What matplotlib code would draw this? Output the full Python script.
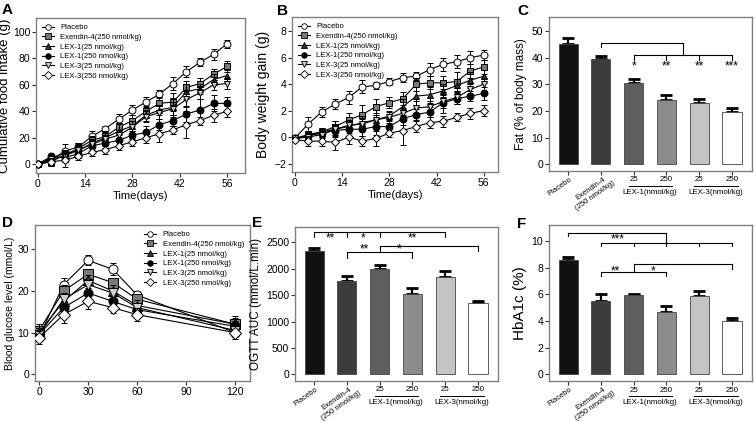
import numpy as np
import matplotlib
matplotlib.use("Agg")
import matplotlib.pyplot as plt
from matplotlib.lines import Line2D

plt.rcParams["font.family"] = ["Liberation Sans", "DejaVu Sans"]
plt.rcParams["axes.edgecolor"] = "#808080"
plt.rcParams["axes.linewidth"] = 1.0
plt.rcParams["xtick.major.size"] = 3
plt.rcParams["ytick.major.size"] = 3
plt.rcParams["xtick.major.width"] = 0.8
plt.rcParams["ytick.major.width"] = 0.8
plt.rcParams["xtick.major.pad"] = 1.5
plt.rcParams["ytick.major.pad"] = 1.2

# group names
groups = ["Placebo", "Exendin-4(250 nmol/kg)", "LEX-1(25 nmol/kg)",
          "LEX-1(250 nmol/kg)", "LEX-3(25 nmol/kg)", "LEX-3(250 nmol/kg)"]

# A: cumulative food intake (g), every 4 days
days = [0, 4, 8, 12, 16, 20, 24, 28, 32, 36, 40, 44, 48, 52, 56]
food_intake = [
    [0, 3, 10, 13, 21, 27, 34, 41, 47, 53, 61, 70, 77, 83, 91],
    [0, 2, 7, 12, 18, 21, 28, 33, 40, 46, 47, 58, 61, 68, 74],
    [0, 5, 8, 10, 16, 20, 25, 29, 37, 41, 43, 55, 57, 64, 67],
    [0, 6, 5, 8, 14, 16, 18, 22, 24, 30, 33, 38, 41, 46, 46],
    [0, 4, 6, 11, 15, 19, 22, 28, 36, 39, 42, 49, 54, 60, 61],
    [0, 2, 3, 6, 9, 11, 14, 17, 20, 23, 26, 30, 33, 37, 40],
]
food_err = [
    [1, 2, 5, 3, 4, 2, 4, 4, 4, 3, 5, 4, 3, 4, 3],
    [1, 3, 3, 4, 3, 4, 3, 4, 4, 5, 7, 5, 4, 4, 4],
    [1, 3, 3, 5, 3, 4, 6, 4, 4, 4, 7, 6, 4, 4, 4],
    [1, 2, 3, 3, 4, 4, 4, 3, 5, 4, 4, 6, 8, 6, 5],
    [1, 4, 4, 3, 4, 3, 4, 5, 4, 5, 5, 6, 5, 4, 4],
    [1, 3, 5, 3, 3, 3, 3, 3, 4, 6, 3, 10, 3, 5, 4],
]

# B: body weight gain (g)
weight_gain = [
    [-0.1, 1.0, 1.9, 2.5, 3.0, 3.8, 3.9, 4.2, 4.5, 4.6, 5.1, 5.5, 5.7, 6.0, 6.2],
    [-0.1, 0.2, 0.4, 0.8, 1.3, 1.7, 2.3, 2.6, 2.9, 4.0, 4.1, 4.1, 4.2, 5.0, 5.3],
    [-0.1, 0.1, 0.4, 0.6, 0.8, 1.1, 1.3, 1.6, 2.3, 3.1, 3.2, 3.5, 3.9, 4.3, 4.6],
    [-0.1, 0.1, 0.3, 0.5, 0.6, 0.6, 0.8, 0.8, 1.4, 1.7, 1.9, 2.6, 2.9, 3.1, 3.3],
    [-0.1, 0.0, 0.2, 0.6, 0.9, 1.0, 1.3, 1.5, 1.8, 2.2, 2.3, 2.7, 3.0, 3.6, 4.0],
    [-0.2, -0.3, -0.3, -0.4, 0.0, -0.3, -0.1, 0.3, 0.5, 0.8, 1.1, 1.2, 1.5, 1.8, 2.0],
]
weight_err = [
    [0.1, 0.5, 0.35, 0.4, 0.5, 0.5, 0.3, 0.25, 0.35, 0.3, 0.5, 0.5, 0.5, 0.5, 0.35],
    [0.1, 0.3, 0.3, 0.4, 0.5, 0.7, 0.6, 0.4, 0.5, 0.5, 0.5, 0.5, 0.7, 0.5, 0.5],
    [0.1, 0.3, 0.3, 0.6, 0.5, 0.5, 0.4, 0.4, 0.6, 0.7, 0.6, 0.5, 0.5, 0.6, 0.5],
    [0.1, 0.4, 0.3, 0.4, 0.5, 0.5, 0.6, 0.5, 0.5, 0.4, 0.4, 0.8, 0.4, 0.4, 0.5],
    [0.1, 0.3, 0.3, 0.4, 0.3, 0.4, 0.5, 0.4, 0.4, 0.5, 0.4, 0.5, 0.5, 0.4, 0.5],
    [0.1, 0.4, 0.4, 0.6, 0.5, 0.4, 0.6, 0.3, 1.1, 0.4, 0.4, 0.4, 0.3, 0.4, 0.4],
]

# D: OGTT blood glucose (mmol/L)
ogtt_time = [0, 15, 30, 45, 60, 120]
glucose = [
    [9.0, 21.5, 27.3, 25.2, 19.0, 10.0],
    [10.5, 20.0, 24.0, 22.0, 18.0, 12.0],
    [10.0, 17.5, 22.5, 20.0, 16.5, 12.0],
    [9.5, 16.0, 19.5, 17.5, 15.5, 11.5],
    [9.5, 18.0, 21.5, 19.5, 16.0, 10.5],
    [8.8, 14.3, 17.5, 16.0, 14.3, 10.0],
]
glucose_err = [
    [1.0, 1.5, 1.2, 1.5, 1.0, 1.5],
    [1.5, 1.5, 1.0, 1.2, 1.0, 2.0],
    [1.5, 1.5, 1.2, 1.3, 1.2, 1.5],
    [1.5, 1.5, 1.2, 1.2, 1.0, 1.2],
    [1.5, 1.5, 1.2, 1.2, 1.0, 1.5],
    [1.5, 2.0, 1.8, 1.3, 1.5, 1.5],
]

# C, E, F: bar panels
fat_mass = [45.0, 39.5, 30.5, 24.0, 22.8, 19.7]
fat_err = [2.5, 1.0, 1.5, 2.0, 1.8, 1.3]
ogtt_auc = [2330, 1770, 1990, 1520, 1840, 1350]
auc_err = [60, 90, 80, 120, 110, 40]
hba1c = [8.55, 5.5, 5.95, 4.7, 5.9, 4.0]
hba1c_err = [0.25, 0.5, 0.1, 0.45, 0.35, 0.2]

# significance brackets: (xs, y, drop ends) and stars (x, y, text)
fat_brackets = [([1, 3.5], 45.6, [44.1, 41.0]),
                ([2, 3, 4, 5], 41.0, [39.1, 39.1, 39.1, 39.1])]
fat_stars = [(2, 36.8, "*"), (3, 36.8, "**"), (4, 36.8, "**"), (5, 36.8, "***")]
auc_brackets = [([0, 1, 2, 4], 2700, [2606, 2606, 2606, 2606]),
                ([2, 5], 2436, [2322, 2335]),
                ([1, 3], 2322, [2203, 2203])]
auc_stars = [(0.5, 2580, "**"), (1.5, 2580, "*"), (3.0, 2580, "**"),
             (1.55, 2370, "**"), (2.6, 2370, "*")]
hba_brackets = [([0, 3], 10.62, [10.4, 9.83]),
                ([1, 2, 3, 4, 5], 9.83, [9.62, 9.62, 9.62, 9.62, 9.62]),
                ([2, 5], 8.25, [7.67, 7.9]),
                ([1, 3], 7.67, [7.4, 7.4])]
hba_stars = [(1.5, 10.15, "***"), (1.45, 7.75, "**"), (2.6, 7.75, "*")]

markers = ["o", "s", "^", "o", "v", "D"]
faces = ["white", "#7a7a7a", "#333333", "black", "#cfcfcf", "white"]
bar_colors = ["#111111", "#3c3c3c", "#5e5e5e", "#8c8c8c", "#c4c4c4", "white"]


def line_panel(ax, x, means, errs, ms, legend_loc):
    handles = []
    for i, (m, e) in enumerate(zip(means, errs)):
        size = ms - 0.8 if markers[i] == "D" else ms
        ax.errorbar(x, m, yerr=e, color="black", lw=0.8, elinewidth=0.7,
                    capsize=2, capthick=0.7, marker=markers[i], ms=size,
                    mfc=faces[i], mec="black", mew=0.7, zorder=3 + i)
        handles.append(Line2D([], [], color="black", lw=0.8, marker=markers[i],
                              ms=4, mfc=faces[i], mec="black", mew=0.6,
                              label=groups[i]))
    ax.legend(handles=handles, loc=legend_loc, frameon=False, fontsize=5.5,
              handlelength=1.6, labelspacing=0.3, handletextpad=0.8,
              borderaxespad=0.4)
    ax.tick_params(labelsize=7.5, color="#333333")


def bar_panel(ax, vals, errs, brackets, stars):
    x = np.arange(len(vals))
    ax.bar(x, vals, width=0.58, color=bar_colors, edgecolor="#444444",
           linewidth=0.6, zorder=2)
    ax.errorbar(x, vals, yerr=[np.zeros(len(errs)), errs], fmt="none",
                ecolor="black", elinewidth=1.6, capsize=4, capthick=2, zorder=1)
    for xs, y, drops in brackets:
        ax.plot([min(xs), max(xs)], [y, y], color="black", lw=0.8, clip_on=False)
        for xx, d in zip(xs, drops):
            ax.plot([xx, xx], [y, d], color="black", lw=0.8, clip_on=False)
    for sx, sy, s in stars:
        ax.text(sx, sy, s, ha="center", va="center", fontsize=8.5)
    ax.set_xlim(-0.58, 5.61)
    ax.set_xticks(x)
    ax.set_xticklabels([])
    ax.tick_params(labelsize=7.5, color="#333333")
    tr = ax.get_xaxis_transform()
    # rotated group labels, one line each
    for i, txt, off in [(0, "Placebo", (1, -3.5)),
                        (1, "Exendin-4", (1.5, -3.5)),
                        (1, "(250 nmol/kg)", (8.5, -6))]:
        ax.annotate(txt, xy=(i, 0), xycoords=tr, xytext=off,
                    textcoords="offset points", rotation=35, ha="right",
                    va="top", rotation_mode="anchor", fontsize=5.5)
    for i, dose in zip([2, 3, 4, 5], ["25", "250", "25", "250"]):
        ax.text(i, -0.058, dose, transform=tr, ha="center", va="center",
                fontsize=5.7)
    for lo, name in [(2, "LEX-1(nmol/kg)"), (4, "LEX-3(nmol/kg)")]:
        ax.plot([lo - 0.15, lo + 1.18], [-0.095, -0.095], transform=tr,
                color="black", lw=0.7, clip_on=False)
        ax.text(lo + 0.5, -0.139, name, transform=tr, ha="center",
                va="center", fontsize=5.7)


W, H = 756, 421
fig = plt.figure(figsize=(W / 100, H / 100), dpi=100)


def box(x0, x1, y0, y1):
    return [x0 / W, 1 - y1 / H, (x1 - x0) / W, (y1 - y0) / H]


axA = fig.add_axes(box(36, 245, 18, 173))
axB = fig.add_axes(box(292, 498, 17, 172))
axC = fig.add_axes(box(549, 752, 17, 171))
axD = fig.add_axes(box(35, 250, 225, 381))
axE = fig.add_axes(box(295, 498, 227, 381))
axF = fig.add_axes(box(549, 752, 225, 381))

line_panel(axA, days, food_intake, food_err, 5, "upper left")
axA.set_xlim(-0.5, 61.3)
axA.set_ylim(-6.6, 110.5)
axA.set_xticks([0, 14, 28, 42, 56])
axA.set_yticks(range(0, 101, 20))
axA.set_xlabel("Time(days)", fontsize=8, labelpad=1)
axA.set_ylabel("Cumulative food intake (g)", fontsize=9.5, labelpad=1.5)

line_panel(axB, days, weight_gain, weight_err, 5, "upper left")
axB.set_xlim(-0.8, 60.2)
axB.set_ylim(-2.63, 9.07)
axB.set_xticks([0, 14, 28, 42, 56])
axB.set_yticks(range(-2, 9, 2))
axB.set_xlabel("Time(days)", fontsize=8, labelpad=1)
axB.set_ylabel("Body weight gain (g)", fontsize=10, labelpad=3)

line_panel(axD, ogtt_time, glucose, glucose_err, 6.5, "upper right")
axD.set_xlim(-2.5, 129)
axD.set_ylim(-1.6, 35.8)
axD.set_xticks(range(0, 121, 30))
axD.set_yticks([0, 10, 20, 30])
axD.set_ylabel("Blood glucose level (mmol/L)", fontsize=7.5, labelpad=2)

bar_panel(axC, fat_mass, fat_err, fat_brackets, fat_stars)
axC.set_ylim(-2.5, 55.2)
axC.set_yticks(range(0, 51, 10))
axC.set_ylabel("Fat (% of body mass)", fontsize=8.5, labelpad=3)

bar_panel(axE, ogtt_auc, auc_err, auc_brackets, auc_stars)
axE.set_ylim(-127, 2790)
axE.set_yticks(range(0, 2501, 500))
axE.set_ylabel("OGTT AUC (mmol/L.min)", fontsize=8.5, labelpad=3)

bar_panel(axF, hba1c, hba1c_err, hba_brackets, hba_stars)
axF.set_ylim(-0.5, 11.2)
axF.set_yticks(range(0, 11, 2))
axF.set_ylabel("HbA1c (%)", fontsize=11, labelpad=3)

for lab, px, py in [("A", 2, 3), ("B", 277, 4), ("C", 517, 4),
                    ("D", 2, 216), ("E", 252, 216), ("F", 517, 217)]:
    fig.text(px / W, 1 - py / H, lab, fontsize=11, fontweight="bold",
             ha="left", va="top")

fig.savefig("out.png", dpi=100)
